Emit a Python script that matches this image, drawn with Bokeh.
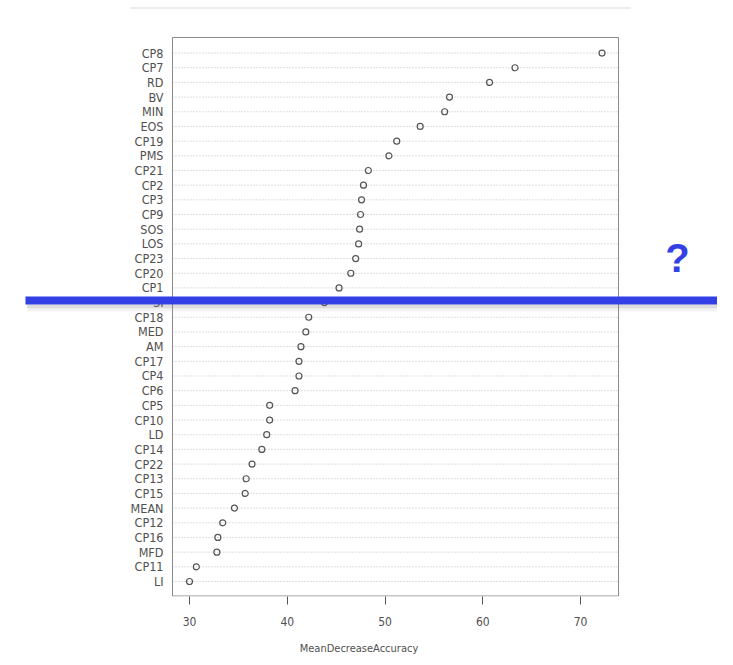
from bokeh.plotting import figure
from bokeh.models import Range1d, FixedTicker, Label, BoxAnnotation, ColumnDataSource
from bokeh.embed import file_html
from bokeh.resources import INLINE

# variables, top to bottom
variables = ["CP8", "CP7", "RD", "BV", "MIN", "EOS", "CP19", "PMS", "CP21", "CP2",
             "CP3", "CP9", "SOS", "LOS", "CP23", "CP20", "CP1", "SI", "CP18", "MED",
             "AM", "CP17", "CP4", "CP6", "CP5", "CP10", "LD", "CP14", "CP22", "CP13",
             "CP15", "MEAN", "CP12", "CP16", "MFD", "CP11", "LI"]
mean_decrease_accuracy = [72.2, 63.3, 60.7, 56.6, 56.1, 53.6, 51.2, 50.4, 48.3, 47.8,
                          47.6, 47.5, 47.4, 47.3, 47.0, 46.5, 45.3, 43.8, 42.2, 41.9,
                          41.4, 41.2, 41.2, 40.8, 38.2, 38.2, 37.9, 37.4, 36.4, 35.8,
                          35.7, 34.6, 33.4, 32.9, 32.8, 30.7, 30.0]
x_ticks = [30, 40, 50, 60, 70]

n = len(variables)
rows = [n - 1 - i for i in range(n)]

# panel (box) limits in data units
BOX_L, BOX_R = 28.26, 73.89
BOX_B, BOX_T = -0.99, n - 1 + 1.06

src = ColumnDataSource(dict(x=mean_decrease_accuracy, y=rows, name=variables,
                            x0=[BOX_L] * n, x1=[BOX_R] * n))

FONT = "'Liberation Sans Narrow', 'DejaVu Sans Condensed', 'Liberation Sans', sans-serif"

p = figure(width=717, height=657, output_backend="svg", toolbar_location=None,
           x_range=Range1d(10.665, 84.015), y_range=Range1d(-1.022, 39.58),
           y_axis_location=None,
           min_border_left=0, min_border_right=0, min_border_top=0, min_border_bottom=61)
p.background_fill_color = "white"
p.border_fill_color = "white"
p.outline_line_color = None
p.xgrid.grid_line_color = None
p.ygrid.grid_line_color = None

# dotted row guide lines
p.segment(x0="x0", x1="x1", y0="y", y1="y", source=src,
          line_color="#bdbdbd", line_dash="1 2", line_width=1)
# panel box
p.quad(left=BOX_L, right=BOX_R, bottom=BOX_B, top=BOX_T,
       fill_color=None, line_color="#8a8a8a", line_width=1)
# points
p.scatter("x", "y", source=src, marker="circle", size=6, fill_color=None,
          line_color="#555555", line_width=1.2)
# variable names
p.text(x="x0", y="y", text="name", source=src, x_offset=-9,
       text_align="right", text_baseline="middle",
       text_font={"value": FONT}, text_font_size="12.5px", text_color="#505050")

# x axis
p.xaxis.ticker = FixedTicker(ticks=x_ticks)
p.xaxis.major_tick_out = 8
p.xaxis.major_tick_in = 0
p.xaxis.major_tick_line_color = "#555555"
p.xaxis.minor_tick_line_color = None
p.xaxis.axis_line_color = None
p.xaxis.major_label_standoff = 12
p.xaxis.major_label_text_font = FONT
p.xaxis.major_label_text_font_size = "12px"
p.xaxis.major_label_text_color = "#505050"
p.xaxis.axis_label = "MeanDecreaseAccuracy"
p.xaxis.axis_label_text_font = FONT
p.xaxis.axis_label_text_font_size = "11px"
p.xaxis.axis_label_text_font_style = "normal"
p.xaxis.axis_label_text_color = "#505050"
p.xaxis.axis_label_standoff = 13

# overlay decorations
p.add_layout(BoxAnnotation(left=23.96, right=75.12, bottom=39.03, top=39.10,
                           fill_color="#d9d9d9", fill_alpha=1, line_color=None))
p.add_layout(BoxAnnotation(left=13.4, right=84.0, bottom=18.62, top=18.87,
                           fill_color="#777777", fill_alpha=0.25, line_color=None))
p.add_layout(BoxAnnotation(left=13.4, right=84.0, bottom=18.4, top=18.62,
                           fill_color="#999999", fill_alpha=0.12, line_color=None))
p.add_layout(BoxAnnotation(left=13.22, right=84.0, bottom=18.87, top=19.41,
                           fill_color="#3340e6", fill_alpha=1, line_color=None))
p.add_layout(Label(x=79.92, y=22.07, text="?",
                   text_align="center", text_baseline="middle",
                   text_font="Liberation Sans", text_font_style="bold",
                   text_font_size="40px", text_color="#3340e6"))

open("out.html", "w").write(file_html(p, INLINE))
